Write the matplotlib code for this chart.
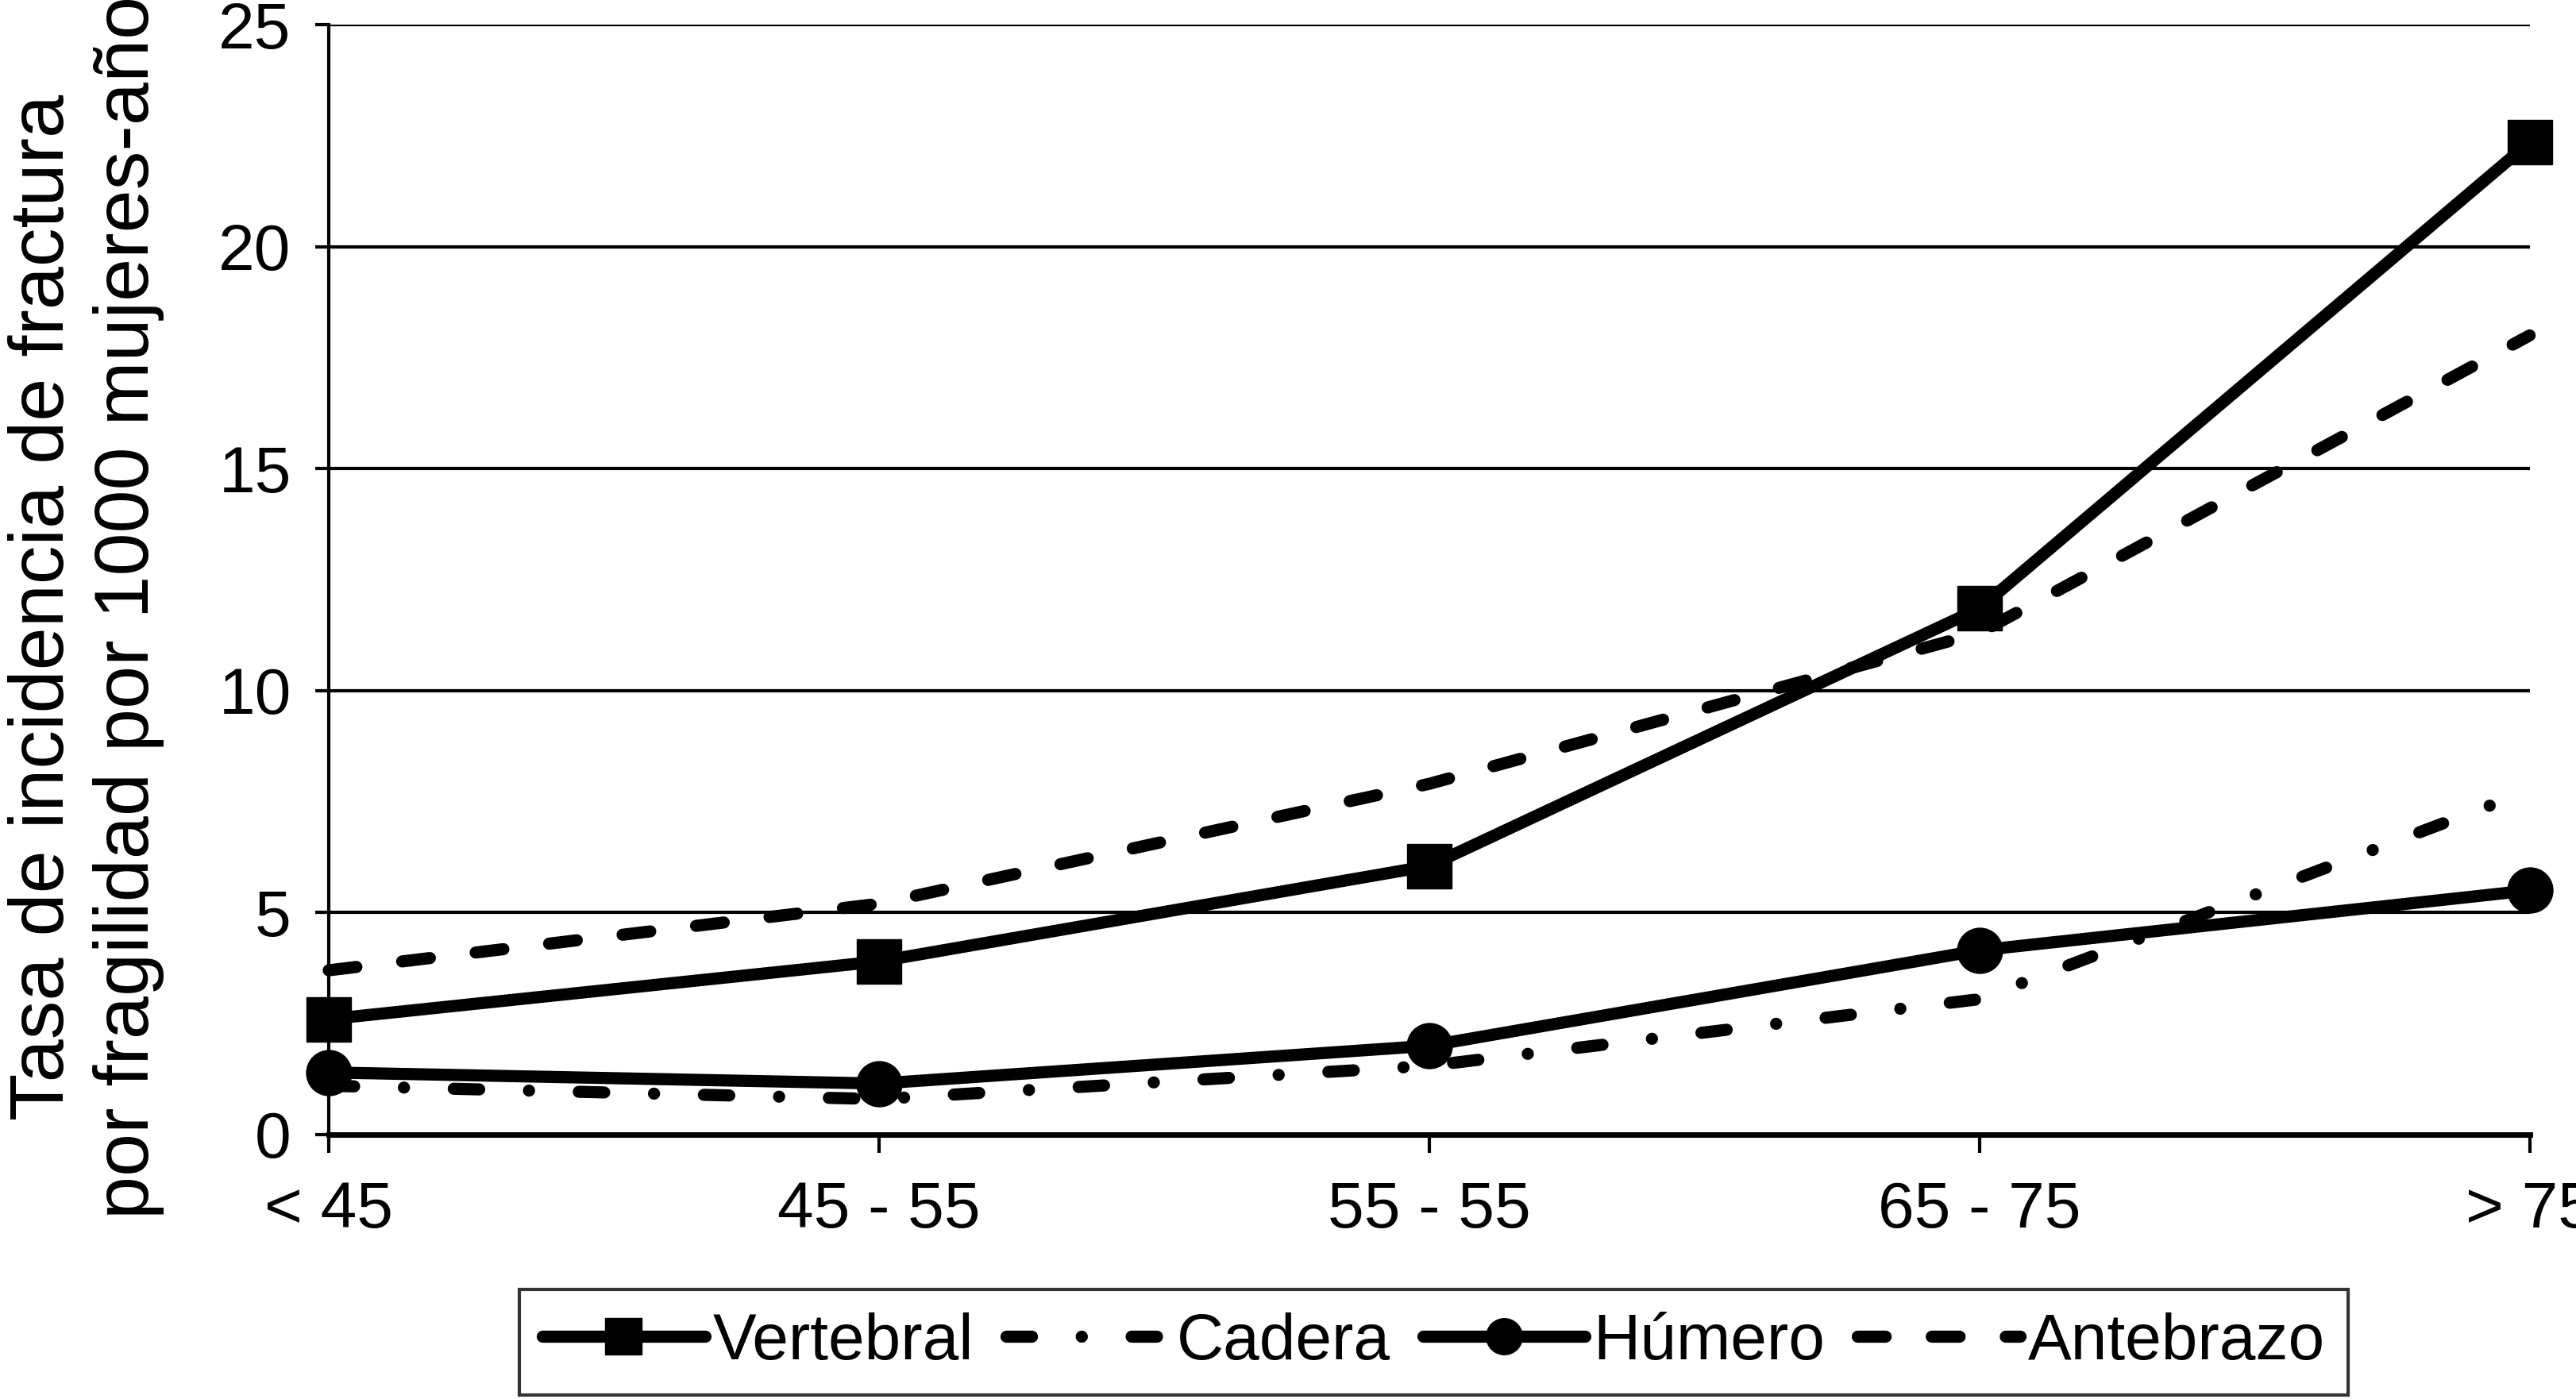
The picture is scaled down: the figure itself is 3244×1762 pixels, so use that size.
import matplotlib
matplotlib.use("Agg")
from matplotlib import pyplot as plt

# data
age_groups = ["< 45", "45 - 55", "55 - 55", "65 - 75", "> 75"]
vertebral = [2.6, 3.9, 6.05, 11.85, 22.35]
cadera = [1.1, 0.8, 1.55, 3.05, 7.75]
humero = [1.4, 1.15, 2.0, 4.15, 5.5]
antebrazo = [3.7, 5.2, 7.9, 11.3, 18.0]
y_ticks = [0, 5, 10, 15, 20, 25]
y_label = "Tasa de incidencia de fractura\npor fragilidad por 1000 mujeres-año"

plt.rcParams['font.family'] = ['Liberation Sans', 'DejaVu Sans']

FS = 59
LW = 11

fig = plt.figure(figsize=(32.44, 17.62), dpi=100)
ax = fig.add_axes([0.1276, 0.189, 0.982 - 0.1276, 0.9824 - 0.189])

x = list(range(len(age_groups)))

common = dict(color="black", lw=LW, clip_on=False)
l_ant, = ax.plot(x, antebrazo, label="Antebrazo", dashes=(2.3, 3.8),
                 dash_capstyle="round", zorder=3, **common)
l_cad, = ax.plot(x, cadera, label="Cadera", dashes=(2.1, 4.1, 0.01, 4.1),
                 dash_capstyle="round", zorder=3, **common)
l_vert, = ax.plot(x, vertebral, label="Vertebral", marker="s", ms=41,
                  mew=1, zorder=4, solid_capstyle="round", **common)
l_hum, = ax.plot(x, humero, label="Húmero", marker="o", ms=41,
                 mew=1, zorder=4, solid_capstyle="round", **common)

ax.set_xlim(0, 4)
ax.set_ylim(0, 25)
ax.set_xticks(x)
ax.set_xticklabels(age_groups)
ax.set_yticks(y_ticks)

ax.yaxis.grid(True, color="black", lw=3)
ax.set_axisbelow(True)
for side in ["top", "right"]:
    ax.spines[side].set_visible(False)
ax.spines["left"].set_linewidth(3)
ax.spines["bottom"].set_linewidth(5)
ax.spines["bottom"].set_zorder(2.5)

ax.tick_params(axis="x", direction="out", length=16.5, width=3,
               labelsize=FS, pad=25)
ax.tick_params(axis="y", direction="out", length=12, width=3,
               labelsize=FS, pad=22)

fig.text(0.0335, 0.566, y_label, rotation=90, ha="center", va="center",
         fontsize=70, linespacing=1.25, multialignment="center")

leg = fig.legend([l_vert, l_cad, l_hum, l_ant],
                 ["Vertebral", "Cadera", "Húmero", "Antebrazo"],
                 loc="center", bbox_to_anchor=(0.5565, 0.0405), ncol=4,
                 fontsize=FS, handlelength=2.5, handletextpad=0.12,
                 columnspacing=0.5, frameon=True, fancybox=False,
                 edgecolor="black", borderpad=0.35, markerscale=0.8)
leg.get_frame().set_linewidth(3)

fig.savefig("out.png", dpi=100)
